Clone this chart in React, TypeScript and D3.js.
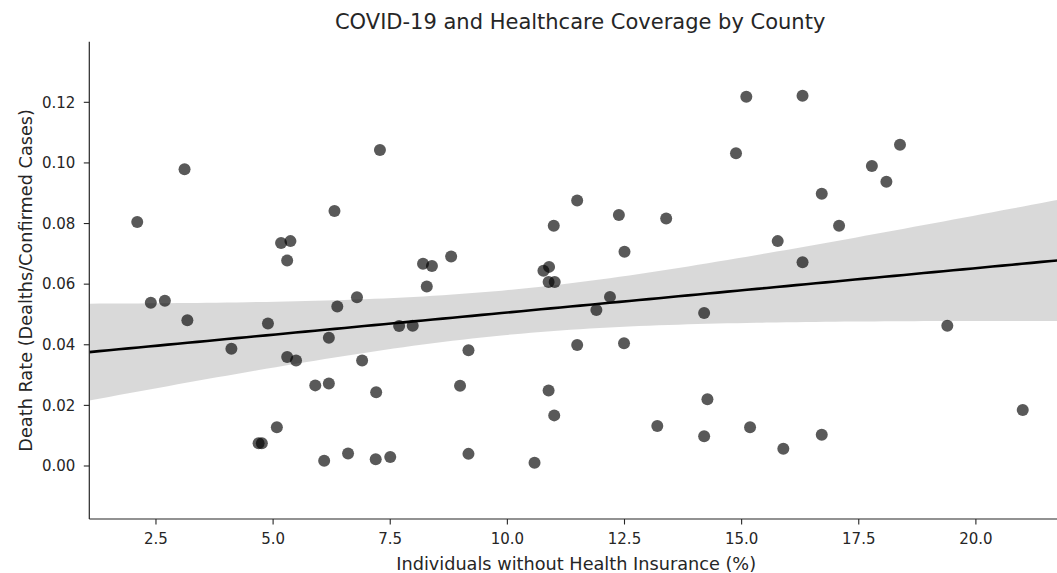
import React from "react";
import * as d3 from "d3";

// County-level observations: share of residents without health insurance (%)
const uninsuredPct: number[] = [
  2.10, 2.39, 2.69, 3.11, 3.17, 4.11, 4.69, 4.76, 4.89, 5.08,
  5.17, 5.30, 5.37, 5.30, 5.49, 5.90, 6.09, 6.19, 6.19, 6.31,
  6.37, 6.60, 6.79, 6.90, 7.20, 7.19, 7.28, 7.50, 7.69, 7.98,
  8.20, 8.28, 8.39, 8.80, 8.99, 9.17, 9.17, 10.58, 10.77, 10.89,
  10.88, 11.01, 10.88, 10.99, 11.00, 11.49, 11.49, 11.90, 12.19, 12.38,
  12.50, 12.49, 13.20, 13.39, 14.20, 14.20, 14.27, 14.88, 15.10, 15.18,
  15.77, 15.89, 16.30, 16.30, 16.71, 16.71, 17.08, 17.78, 18.09, 18.38,
  19.39, 21.00,
];

// Matching death rate (deaths / confirmed cases)
const deathRate: number[] = [
  0.0805, 0.0539, 0.0545, 0.0979, 0.0481, 0.0387, 0.0075, 0.0075, 0.0470, 0.0128,
  0.0736, 0.0678, 0.0742, 0.0360, 0.0348, 0.0266, 0.0017, 0.0423, 0.0272, 0.0841,
  0.0526, 0.0041, 0.0557, 0.0348, 0.0243, 0.0022, 0.1043, 0.0030, 0.0462, 0.0463,
  0.0667, 0.0592, 0.0660, 0.0691, 0.0265, 0.0382, 0.0040, 0.0011, 0.0644, 0.0657,
  0.0607, 0.0607, 0.0249, 0.0793, 0.0167, 0.0876, 0.0399, 0.0515, 0.0558, 0.0828,
  0.0707, 0.0405, 0.0132, 0.0817, 0.0505, 0.0098, 0.0220, 0.1032, 0.1218, 0.0128,
  0.0742, 0.0057, 0.1222, 0.0672, 0.0898, 0.0103, 0.0793, 0.0990, 0.0938, 0.1060,
  0.0463, 0.0185,
];

const xTicks: number[] = [2.5, 5.0, 7.5, 10.0, 12.5, 15.0, 17.5, 20.0];
const yTicks: number[] = [0.0, 0.02, 0.04, 0.06, 0.08, 0.1, 0.12];

const titleText = "COVID-19 and Healthcare Coverage by County";
const xLabel = "Individuals without Health Insurance (%)";
const yLabel = "Death Rate (Dealths/Confirmed Cases)";

const W = 1057;
const H = 573;
const plotLeft = 89.3;
const plotRight = 1071;
const plotTop = 41.7;
const plotBottom = 519;
const FONT = "'DejaVu Sans', sans-serif";
const INK = "#262626";

// Ordinary least squares fit with a 95% confidence band for the mean
function fitLine(xs: number[], ys: number[]) {
  const n = xs.length;
  const mx = d3.mean(xs) as number;
  const my = d3.mean(ys) as number;
  let sxx = 0;
  let sxy = 0;
  for (let i = 0; i < n; i++) {
    sxx += (xs[i] - mx) ** 2;
    sxy += (xs[i] - mx) * (ys[i] - my);
  }
  const slope = sxy / sxx;
  const intercept = my - slope * mx;
  let sse = 0;
  for (let i = 0; i < n; i++) {
    sse += (ys[i] - (intercept + slope * xs[i])) ** 2;
  }
  const s = Math.sqrt(sse / (n - 2));
  const t = 1.994;
  const predict = (x: number) => intercept + slope * x;
  const half = (x: number) => t * s * Math.sqrt(1 / n + (x - mx) ** 2 / sxx);
  return { predict, half };
}

export default function App() {
  const x = d3.scaleLinear().domain([1.077, 22.03]).range([plotLeft, plotRight]);
  const y = d3.scaleLinear().domain([-0.01749, 0.14]).range([plotBottom, plotTop]);

  const { predict, half } = fitLine(uninsuredPct, deathRate);
  const [x0, x1] = x.domain();
  const grid = d3.range(0, 101).map((i) => x0 + ((x1 - x0) * i) / 100);

  const band = d3
    .area<number>()
    .x((d) => x(d))
    .y0((d) => y(predict(d) - half(d)))
    .y1((d) => y(predict(d) + half(d)));
  const line = d3
    .line<number>()
    .x((d) => x(d))
    .y((d) => y(predict(d)));

  const fmtX = d3.format(".1f");
  const fmtY = d3.format(".2f");
  const midX = (plotLeft + plotRight) / 2;

  return (
    <svg
      width={W}
      height={H}
      style={{ position: "absolute", left: 0, top: 0, background: "#fff" }}
      fontFamily={FONT}
    >
      <defs>
        <clipPath id="plot-area">
          <rect x={plotLeft} y={plotTop} width={plotRight - plotLeft} height={plotBottom - plotTop} />
        </clipPath>
      </defs>

      <text x={midX} y={29} textAnchor="middle" fontSize={21} fill={INK}>
        {titleText}
      </text>

      <g clipPath="url(#plot-area)">
        <path d={band(grid) ?? ""} fill="#000" fillOpacity={0.15} />
        {uninsuredPct.map((v, i) => (
          <circle key={i} cx={x(v)} cy={y(deathRate[i])} r={6} fill="#000" fillOpacity={0.65} />
        ))}
        <path d={line(grid) ?? ""} fill="none" stroke="#000" strokeWidth={2.6} />
      </g>

      {/* left and bottom spines only */}
      <line x1={plotLeft} x2={plotLeft} y1={plotTop} y2={plotBottom} stroke={INK} strokeWidth={1.2} />
      <line x1={plotLeft} x2={plotRight} y1={plotBottom} y2={plotBottom} stroke={INK} strokeWidth={1.2} />

      {xTicks.map((t) => (
        <g key={t}>
          <line x1={x(t)} x2={x(t)} y1={plotBottom} y2={plotBottom + 5.5} stroke={INK} strokeWidth={1.1} />
          <text x={x(t)} y={544} textAnchor="middle" fontSize={15} fill={INK}>
            {fmtX(t)}
          </text>
        </g>
      ))}

      {yTicks.map((t) => (
        <g key={t}>
          <line x1={plotLeft - 5.5} x2={plotLeft} y1={y(t)} y2={y(t)} stroke={INK} strokeWidth={1.1} />
          <text x={plotLeft - 14} y={y(t) + 5.3} textAnchor="end" fontSize={15} fill={INK}>
            {fmtY(t)}
          </text>
        </g>
      ))}

      <text x={midX - 4} y={569.5} textAnchor="middle" fontSize={17.7} fill={INK}>
        {xLabel}
      </text>
      <text
        transform={`translate(32, ${(plotTop + plotBottom) / 2}) rotate(-90)`}
        textAnchor="middle"
        fontSize={17.7}
        fill={INK}
      >
        {yLabel}
      </text>
    </svg>
  );
}
